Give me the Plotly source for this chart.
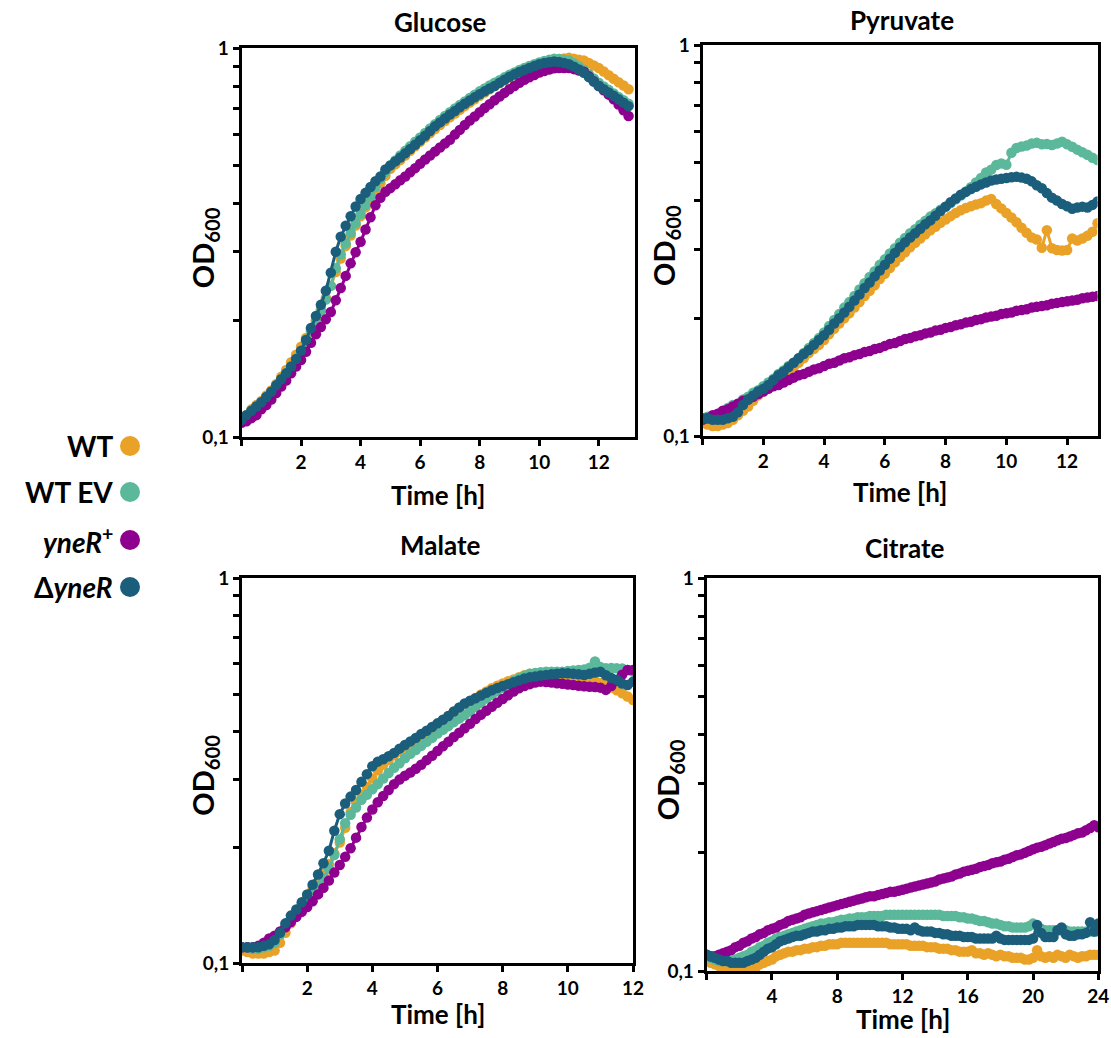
import plotly.graph_objects as go

# ---------------- data (OD600) ----------------
strains = ["WT", "WT EV", "yneR+", "ΔyneR"]
colors = ["#E9A227", "#5BB89A", "#8E008E", "#1B5E7C"]

step_short = 1 / 6   # 10-min sampling (glucose, pyruvate, malate)
step_citrate = 0.25  # 15-min sampling (citrate)

glc_wt = [0.111,0.114,0.118,0.121,0.124,0.128,0.132,0.137,0.143,0.149,0.156,0.163,0.171,0.180,0.190,0.200,0.213,0.228,
          0.245,0.266,0.288,0.310,0.330,0.350,0.370,0.390,0.410,0.430,0.450,0.470,0.490,0.503,0.516,0.530,0.545,0.560,
          0.575,0.590,0.605,0.620,0.635,0.650,0.665,0.680,0.695,0.710,0.725,0.740,0.755,0.770,0.785,0.800,0.813,0.827,
          0.840,0.853,0.867,0.880,0.890,0.900,0.910,0.918,0.927,0.935,0.939,0.942,0.945,0.940,0.935,0.930,0.917,0.903,
          0.890,0.872,0.853,0.835,0.818,0.802,0.785]
glc_wtev = [0.111,0.114,0.117,0.120,0.123,0.127,0.131,0.136,0.141,0.146,0.152,0.159,0.166,0.176,0.187,0.198,0.211,0.226,
            0.245,0.272,0.295,0.315,0.335,0.355,0.375,0.395,0.416,0.440,0.461,0.481,0.500,0.515,0.530,0.545,0.560,0.575,
            0.590,0.606,0.622,0.638,0.654,0.670,0.685,0.700,0.715,0.730,0.745,0.760,0.775,0.788,0.802,0.815,0.828,0.842,
            0.855,0.867,0.879,0.890,0.900,0.910,0.920,0.927,0.934,0.940,0.938,0.935,0.930,0.915,0.898,0.880,0.858,0.836,
            0.815,0.798,0.782,0.765,0.750,0.735,0.720]
glc_plus = [0.109,0.110,0.112,0.114,0.118,0.121,0.125,0.130,0.135,0.140,0.146,0.152,0.158,0.166,0.175,0.184,0.192,0.201,
            0.210,0.225,0.242,0.260,0.280,0.299,0.318,0.342,0.368,0.395,0.413,0.428,0.437,0.447,0.458,0.468,0.480,0.492,
            0.505,0.518,0.530,0.543,0.556,0.569,0.582,0.600,0.617,0.635,0.652,0.668,0.685,0.702,0.718,0.735,0.752,0.768,
            0.785,0.800,0.815,0.830,0.842,0.854,0.866,0.874,0.882,0.889,0.890,0.890,0.890,0.884,0.877,0.870,0.847,0.823,
            0.800,0.780,0.760,0.740,0.717,0.693,0.670]
glc_del = [0.111,0.114,0.117,0.120,0.123,0.127,0.131,0.136,0.141,0.146,0.152,0.159,0.167,0.178,0.191,0.205,0.219,0.238,
           0.265,0.300,0.328,0.350,0.370,0.392,0.410,0.425,0.440,0.455,0.468,0.488,0.500,0.512,0.524,0.537,0.551,0.565,
           0.580,0.596,0.613,0.630,0.645,0.660,0.676,0.690,0.705,0.720,0.734,0.748,0.762,0.775,0.788,0.800,0.815,0.830,
           0.845,0.857,0.869,0.880,0.890,0.900,0.910,0.916,0.921,0.925,0.922,0.917,0.910,0.897,0.882,0.865,0.843,0.821,
           0.800,0.785,0.770,0.755,0.740,0.725,0.710]

pyr_wt = [0.108,0.107,0.106,0.106,0.107,0.108,0.110,0.113,0.116,0.119,0.123,0.127,0.130,0.133,0.137,0.140,0.143,0.147,
          0.150,0.154,0.158,0.163,0.167,0.171,0.176,0.182,0.188,0.194,0.200,0.206,0.213,0.220,0.228,0.235,0.243,0.252,
          0.260,0.269,0.278,0.287,0.295,0.304,0.312,0.320,0.328,0.336,0.343,0.351,0.358,0.365,0.372,0.378,0.383,0.387,
          0.391,0.394,0.400,0.404,0.392,0.382,0.372,0.362,0.352,0.341,0.331,0.322,0.318,0.303,0.336,0.302,0.299,0.298,
          0.299,0.320,0.316,0.320,0.325,0.333,0.350]
pyr_wtev = [0.111,0.112,0.112,0.113,0.115,0.118,0.120,0.121,0.124,0.126,0.129,0.131,0.134,0.137,0.140,0.144,0.147,0.151,
            0.154,0.158,0.163,0.168,0.173,0.178,0.184,0.191,0.198,0.205,0.213,0.220,0.228,0.237,0.246,0.255,0.264,0.274,
            0.283,0.293,0.302,0.312,0.321,0.330,0.338,0.347,0.355,0.364,0.371,0.379,0.386,0.394,0.403,0.412,0.422,0.433,
            0.445,0.457,0.472,0.480,0.493,0.498,0.494,0.530,0.545,0.550,0.553,0.560,0.562,0.557,0.558,0.555,0.560,0.566,
            0.557,0.549,0.540,0.532,0.524,0.515,0.508]
pyr_plus = [0.110,0.111,0.113,0.114,0.116,0.117,0.119,0.121,0.123,0.124,0.126,0.128,0.130,0.132,0.134,0.135,0.137,0.139,
            0.141,0.143,0.144,0.146,0.148,0.149,0.151,0.153,0.154,0.156,0.158,0.159,0.161,0.162,0.164,0.165,0.167,0.168,
            0.170,0.172,0.173,0.175,0.177,0.178,0.180,0.181,0.183,0.184,0.186,0.187,0.189,0.190,0.192,0.193,0.195,0.196,
            0.198,0.199,0.201,0.202,0.203,0.205,0.206,0.207,0.209,0.210,0.211,0.213,0.214,0.215,0.216,0.218,0.219,0.220,
            0.221,0.222,0.223,0.225,0.226,0.227,0.228]
pyr_del = [0.111,0.111,0.110,0.110,0.110,0.111,0.112,0.115,0.120,0.124,0.127,0.130,0.132,0.135,0.139,0.143,0.146,0.150,
           0.154,0.158,0.162,0.166,0.171,0.176,0.181,0.187,0.194,0.200,0.207,0.214,0.222,0.230,0.239,0.247,0.256,0.265,
           0.274,0.284,0.294,0.304,0.313,0.322,0.330,0.339,0.348,0.356,0.366,0.376,0.386,0.396,0.405,0.414,0.421,0.428,
           0.434,0.440,0.445,0.450,0.453,0.455,0.457,0.459,0.460,0.458,0.455,0.448,0.438,0.430,0.418,0.407,0.400,0.392,
           0.387,0.381,0.384,0.386,0.384,0.390,0.398]

mal_wt = [0.108,0.107,0.106,0.106,0.106,0.107,0.108,0.113,0.120,0.127,0.134,0.142,0.149,0.156,0.163,0.171,0.181,0.193,
          0.206,0.225,0.247,0.262,0.274,0.287,0.302,0.317,0.328,0.338,0.347,0.355,0.363,0.371,0.380,0.389,0.398,0.408,
          0.418,0.428,0.439,0.450,0.460,0.470,0.480,0.489,0.499,0.508,0.518,0.526,0.533,0.540,0.546,0.553,0.560,0.565,
          0.566,0.563,0.560,0.556,0.553,0.550,0.547,0.545,0.545,0.545,0.545,0.542,0.535,0.528,0.520,0.512,0.503,0.493,
          0.483]
mal_wtev = [0.110,0.110,0.109,0.109,0.110,0.111,0.113,0.119,0.125,0.131,0.136,0.141,0.146,0.151,0.159,0.166,0.176,0.191,
            0.210,0.231,0.243,0.254,0.266,0.274,0.283,0.292,0.302,0.312,0.322,0.331,0.341,0.350,0.358,0.367,0.376,0.385,
            0.395,0.404,0.413,0.423,0.432,0.441,0.451,0.463,0.475,0.487,0.498,0.509,0.520,0.531,0.541,0.550,0.558,0.565,
            0.568,0.570,0.572,0.572,0.572,0.572,0.574,0.576,0.578,0.580,0.586,0.608,0.588,0.584,0.585,0.584,0.583,0.578,
            0.572]
mal_plus = [0.110,0.110,0.110,0.111,0.113,0.116,0.118,0.121,0.124,0.128,0.132,0.136,0.140,0.145,0.151,0.157,0.164,0.172,
            0.180,0.189,0.199,0.212,0.226,0.239,0.251,0.262,0.272,0.282,0.292,0.300,0.307,0.313,0.320,0.328,0.337,0.346,
            0.356,0.366,0.376,0.387,0.397,0.408,0.419,0.431,0.442,0.453,0.464,0.475,0.486,0.497,0.508,0.518,0.525,0.531,
            0.536,0.539,0.538,0.536,0.534,0.532,0.530,0.528,0.526,0.524,0.523,0.522,0.520,0.513,0.525,0.542,0.562,0.578,
            0.578]
mal_del = [0.110,0.110,0.110,0.110,0.111,0.112,0.115,0.120,0.127,0.133,0.138,0.144,0.151,0.160,0.170,0.182,0.196,0.221,
           0.244,0.260,0.271,0.282,0.296,0.310,0.325,0.334,0.339,0.345,0.352,0.361,0.369,0.377,0.385,0.394,0.402,0.411,
           0.420,0.429,0.439,0.451,0.462,0.473,0.481,0.488,0.496,0.504,0.512,0.519,0.525,0.531,0.537,0.543,0.549,0.553,
           0.556,0.559,0.561,0.563,0.565,0.567,0.567,0.565,0.563,0.561,0.565,0.569,0.572,0.560,0.551,0.545,0.533,0.528,
           0.539]

cit_wt = [0.106,0.105,0.104,0.103,0.102,0.102,0.101,0.101,0.100,0.100,0.101,0.101,0.102,0.104,0.105,0.106,0.107,0.109,
          0.110,0.111,0.112,0.112,0.113,0.113,0.114,0.114,0.115,0.115,0.116,0.116,0.117,0.117,0.117,0.118,0.118,0.118,
          0.118,0.118,0.118,0.118,0.118,0.118,0.118,0.118,0.118,0.117,0.117,0.117,0.117,0.117,0.116,0.116,0.116,0.116,
          0.115,0.115,0.115,0.114,0.114,0.114,0.113,0.113,0.112,0.112,0.112,0.113,0.111,0.111,0.110,0.111,0.110,0.109,
          0.110,0.109,0.109,0.108,0.108,0.108,0.107,0.107,0.108,0.113,0.109,0.108,0.109,0.108,0.110,0.109,0.108,0.110,
          0.109,0.108,0.109,0.109,0.110,0.110,0.110]
cit_wtev = [0.109,0.108,0.107,0.106,0.106,0.106,0.106,0.107,0.108,0.109,0.110,0.112,0.113,0.115,0.116,0.118,0.119,0.121,
            0.122,0.123,0.124,0.125,0.126,0.127,0.128,0.129,0.130,0.131,0.132,0.132,0.133,0.133,0.134,0.135,0.135,0.136,
            0.136,0.137,0.137,0.137,0.138,0.138,0.138,0.138,0.139,0.139,0.139,0.139,0.139,0.139,0.139,0.139,0.139,0.139,
            0.139,0.139,0.139,0.139,0.138,0.138,0.138,0.138,0.137,0.137,0.136,0.136,0.135,0.134,0.134,0.133,0.132,0.132,
            0.131,0.130,0.130,0.129,0.129,0.129,0.129,0.130,0.132,0.130,0.128,0.127,0.127,0.127,0.127,0.127,0.127,0.126,
            0.126,0.126,0.126,0.126,0.126,0.126,0.126]
cit_plus = [0.110,0.109,0.109,0.110,0.111,0.112,0.113,0.115,0.116,0.118,0.119,0.121,0.122,0.124,0.125,0.127,0.128,0.129,
            0.131,0.132,0.134,0.135,0.136,0.137,0.139,0.140,0.141,0.142,0.143,0.144,0.145,0.146,0.147,0.148,0.149,0.150,
            0.151,0.152,0.153,0.154,0.155,0.155,0.156,0.157,0.158,0.159,0.159,0.160,0.161,0.162,0.163,0.164,0.165,0.166,
            0.167,0.168,0.169,0.171,0.172,0.173,0.174,0.176,0.177,0.179,0.180,0.181,0.182,0.184,0.185,0.186,0.188,0.189,
            0.190,0.192,0.193,0.195,0.197,0.198,0.200,0.202,0.204,0.206,0.207,0.209,0.211,0.213,0.215,0.217,0.218,0.220,
            0.222,0.224,0.225,0.228,0.231,0.235,0.232]
cit_del = [0.110,0.109,0.108,0.107,0.106,0.106,0.105,0.105,0.105,0.105,0.106,0.107,0.108,0.110,0.112,0.114,0.115,0.117,
           0.119,0.120,0.121,0.122,0.123,0.123,0.124,0.125,0.126,0.126,0.127,0.127,0.128,0.128,0.129,0.129,0.130,0.130,
           0.130,0.131,0.131,0.131,0.131,0.131,0.130,0.130,0.130,0.129,0.129,0.128,0.128,0.128,0.127,0.129,0.127,0.126,
           0.126,0.126,0.125,0.125,0.124,0.124,0.123,0.123,0.123,0.122,0.122,0.122,0.121,0.121,0.121,0.121,0.121,0.123,
           0.121,0.120,0.120,0.120,0.120,0.120,0.120,0.120,0.121,0.131,0.125,0.122,0.122,0.122,0.127,0.129,0.124,0.123,
           0.123,0.124,0.124,0.125,0.133,0.126,0.132]

panels = [
    ("Glucose", step_short, [glc_wt, glc_wtev, glc_plus, glc_del]),
    ("Pyruvate", step_short, [pyr_wt, pyr_wtev, pyr_plus, pyr_del]),
    ("Malate", step_short, [mal_wt, mal_wtev, mal_plus, mal_del]),
    ("Citrate", step_citrate, [cit_wt, cit_wtev, cit_plus, cit_del]),
]

x_ranges = [[0, 13.2], [0, 13.0], [0, 12], [0, 24]]
x_ticks = [[0, 2, 4, 6, 8, 10, 12], [0, 2, 4, 6, 8, 10, 12], [0, 2, 4, 6, 8, 10, 12], [0, 4, 8, 12, 16, 20, 24]]
y_tickvals = [0.1, 0.2, 0.3, 0.4, 0.5, 0.6, 0.7, 0.8, 0.9, 1.0]
y_ticktext = ["0,1", "", "", "", "", "", "", "", "", "1"]

# ---------------- layout geometry (pixels) ----------------
W, H = 1111, 1038
# (left, right, top, bottom) of each plot area in pixels
boxes = [(241.5, 634.5, 48.3, 437.3),
         (702.5, 1097.5, 45.0, 436.0),
         (242.0, 633.0, 578.3, 963.3),
         (706.7, 1098.3, 578.0, 971.0)]
title_y = [22, 20, 545, 548]
xtitle_y = [495, 492, 1014, 1019]

FONT = "Lato, 'Open Sans', sans-serif"

fig = go.Figure()

for i, (name, step, series) in enumerate(panels):
    ax = "" if i == 0 else str(i + 1)
    for s, c, vals in zip(strains, colors, series):
        t = [k * step for k in range(len(vals))]
        fig.add_trace(go.Scatter(
            x=t, y=vals, mode="lines+markers", name=s, showlegend=False,
            line=dict(color=c, width=3),
            marker=dict(color=c, size=10.5, line=dict(width=0)),
            xaxis="x" + ax, yaxis="y" + ax, cliponaxis=True,
        ))

annotations = []
for i, (name, step, series) in enumerate(panels):
    ax = "" if i == 0 else str(i + 1)
    l, r, tp, b = boxes[i]
    xd = [l / W, r / W]
    yd = [1 - b / H, 1 - tp / H]
    common = dict(showline=True, linecolor="black", linewidth=3, mirror=True,
                  ticks="outside", ticklen=6, tickwidth=3, tickcolor="black",
                  showgrid=False, zeroline=False, automargin=False,
                  tickfont=dict(family=FONT, size=19, color="black", weight="bold"))
    fig.layout["xaxis" + ax] = dict(
        domain=xd, range=x_ranges[i], anchor="y" + ax,
        tickvals=x_ticks[i], ticktext=[""] + [str(v) for v in x_ticks[i][1:]],
        **common)
    fig.layout["yaxis" + ax] = dict(
        domain=yd, type="log", range=[-1, 0], anchor="x" + ax,
        tickvals=y_tickvals, ticktext=y_ticktext, **common)

    cx = (l + r) / 2
    # panel title
    annotations.append(dict(text="<b>" + name + "</b>", x=(cx + 2) / W, y=1 - title_y[i] / H,
                            xref="paper", yref="paper", xanchor="center", yanchor="middle",
                            showarrow=False, font=dict(family=FONT, size=26, color="black")))
    # x title
    annotations.append(dict(text="<b>Time [h]</b>", x=cx / W, y=1 - xtitle_y[i] / H,
                            xref="paper", yref="paper", xanchor="center", yanchor="middle",
                            showarrow=False, font=dict(family=FONT, size=26, color="black")))
    # y title
    annotations.append(dict(text="<b>OD<sub>600</sub></b>", x=(l - 37) / W, y=1 - ((tp + b) / 2 + 5) / H,
                            xref="paper", yref="paper", xanchor="center", yanchor="middle",
                            showarrow=False, textangle=-90,
                            font=dict(family=FONT, size=29, color="black")))

# ---------------- legend (text + coloured dots) ----------------
legend_labels = ["<b>WT</b>", "<b>WT EV</b>", "<b><i>yneR</i><sup>+</sup></b>", "<b>Δ<i>yneR</i></b>"]
legend_y = [446, 492, 540, 587]
shapes = []
for lab, c, yy in zip(legend_labels, colors, legend_y):
    annotations.append(dict(text=lab, x=115 / W, y=1 - yy / H, xref="paper", yref="paper",
                            xanchor="right", yanchor="middle", showarrow=False,
                            font=dict(family=FONT, size=28, color="black")))
    shapes.append(dict(type="circle", xref="paper", yref="paper",
                       x0=120 / W, x1=140 / W, y0=1 - (yy + 10) / H, y1=1 - (yy - 10) / H,
                       fillcolor=c, line=dict(width=0)))

fig.update_layout(
    template="none",
    width=W, height=H, margin=dict(l=0, r=0, t=0, b=0, autoexpand=False),
    paper_bgcolor="white", plot_bgcolor="white",
    annotations=annotations, shapes=shapes, showlegend=False,
    font=dict(family=FONT, color="black"),
)

fig.write_html(
    "out.html",
    config={"displayModeBar": False},
    post_script="document.body.style.margin='0px';document.body.style.overflow='hidden';",
)
